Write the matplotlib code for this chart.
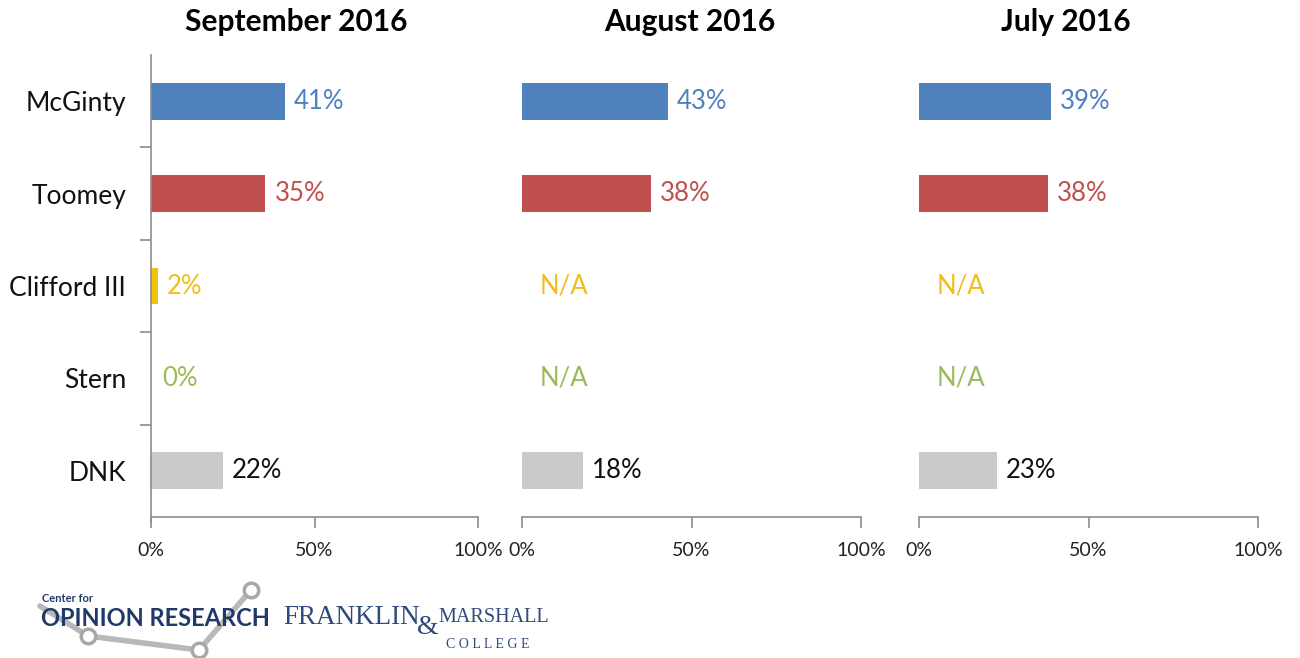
import matplotlib
matplotlib.use("Agg")
import matplotlib.pyplot as plt
from matplotlib.ticker import FixedLocator, NullFormatter

plt.rcParams['font.family'] = ['Lato', 'DejaVu Sans']

categories = ["McGinty", "Toomey", "Clifford III", "Stern", "DNK"]
panel_titles = ["September 2016", "August 2016", "July 2016"]
sep_2016 = [41, 35, 2, 0, 22]
aug_2016 = [43, 38, None, None, 18]
jul_2016 = [39, 38, None, None, 23]
series = [sep_2016, aug_2016, jul_2016]
xticks = [0, 50, 100]
xtick_labels = ["0%", "50%", "100%"]

bar_colors = ["#4F81BD", "#C0504D", "#F4C20D", "#9BBB59", "#C9C9C9"]
label_colors = ["#4F81BD", "#C0504D", "#F0BE1A", "#9BBB59", "#111111"]
axis_gray = "#8C8C8C"

W, H = 1300, 658
fig = plt.figure(figsize=(W / 100, H / 100), dpi=100)

panel_px = [(151, 478), (522, 861), (919, 1258)]
title_x = [296, 690, 1066]
top_px, bot_px = 55, 517

for i, (vals, (x0, x1)) in enumerate(zip(series, panel_px)):
    ax = fig.add_axes([x0 / W, 1 - bot_px / H, (x1 - x0) / W, (bot_px - top_px) / H])
    ypos = list(range(len(categories)))
    for y, v, c, lc in zip(ypos, vals, bar_colors, label_colors):
        if v is None:
            ax.annotate("N/A", xy=(0, y), xytext=(18, 0), textcoords="offset pixels",
                        ha="left", va="center", color=lc, fontsize=18.5)
        else:
            if v > 0:
                ax.barh(y, v, height=0.4, color=c, edgecolor="none")
            ax.annotate(f"{v}%", xy=(v, y), xytext=(9 if v > 0 else 11, 0),
                        textcoords="offset pixels", ha="left", va="center",
                        color=lc, fontsize=18.5)
    ax.set_xlim(0, 100)
    ax.set_ylim(len(categories) - 0.5, -0.5)
    ax.set_xticks(xticks)
    ax.set_xticklabels(xtick_labels, fontsize=14, color="#222222")
    ax.tick_params(axis="x", direction="out", length=8, color=axis_gray, width=1.2, pad=10)
    for s in ["top", "right"]:
        ax.spines[s].set_visible(False)
    ax.spines["bottom"].set_color(axis_gray)
    ax.spines["bottom"].set_linewidth(1.2)
    if i == 0:
        ax.spines["left"].set_color(axis_gray)
        ax.spines["left"].set_linewidth(1.2)
        ax.spines["left"].set_bounds(len(categories) - 0.45, -0.5)
        ax.yaxis.set_major_locator(FixedLocator(ypos))
        ax.set_yticklabels(categories, fontsize=19, color="#111111")
        ax.tick_params(axis="y", which="major", length=0, pad=18)
        ax.yaxis.set_minor_locator(FixedLocator([0.5, 1.5, 2.5, 3.5]))
        ax.yaxis.set_minor_formatter(NullFormatter())
        ax.tick_params(axis="y", which="minor", length=8, direction="out",
                       color=axis_gray, width=1.2)
    else:
        ax.spines["left"].set_visible(False)
        ax.set_yticks([])
    ax.set_facecolor("none")
    fig.text(title_x[i] / W, 1 - 22 / H, panel_titles[i], ha="center", va="center",
             fontsize=21.5, fontweight="bold", color="#000000")

# Logo (decorative)
lax = fig.add_axes([0, 0, 1, 1], zorder=-1)
lax.set_xlim(0, W)
lax.set_ylim(H, 0)
lax.axis("off")
lx = [40, 88, 199, 251]
ly = [606, 636, 650, 590]
lax.plot(lx, ly, color="#B8B8B8", lw=4, solid_capstyle="round")
lax.scatter(lx[1:], ly[1:], s=110, facecolor="white", edgecolor="#A8A8A8", linewidth=2.5, zorder=3)
navy = "#1F3A68"
lax.text(42, 598, "Center for", fontsize=8, fontweight="bold", color=navy, va="center", ha="left")
lax.text(41, 619, "OPINION RESEARCH", fontsize=17, fontweight="bold", color=navy,
         va="center", ha="left", zorder=4)
serif = ["Liberation Serif", "DejaVu Serif"]
brand = "#2E4A7A"
lax.text(283, 617, "FRANKLIN", family=serif, fontsize=19.5, color=brand, va="center", ha="left")
lax.text(417, 628, "&", family=serif, fontsize=20, color=brand, va="center", ha="left")
lax.text(438, 617, "MARSHALL", family=serif, fontsize=14.5, color=brand, va="center", ha="left")
lax.text(446, 644, "C O L L E G E", family=serif, fontsize=10, color=brand, va="center", ha="left")

fig.savefig("out.png", dpi=100, facecolor="white")
